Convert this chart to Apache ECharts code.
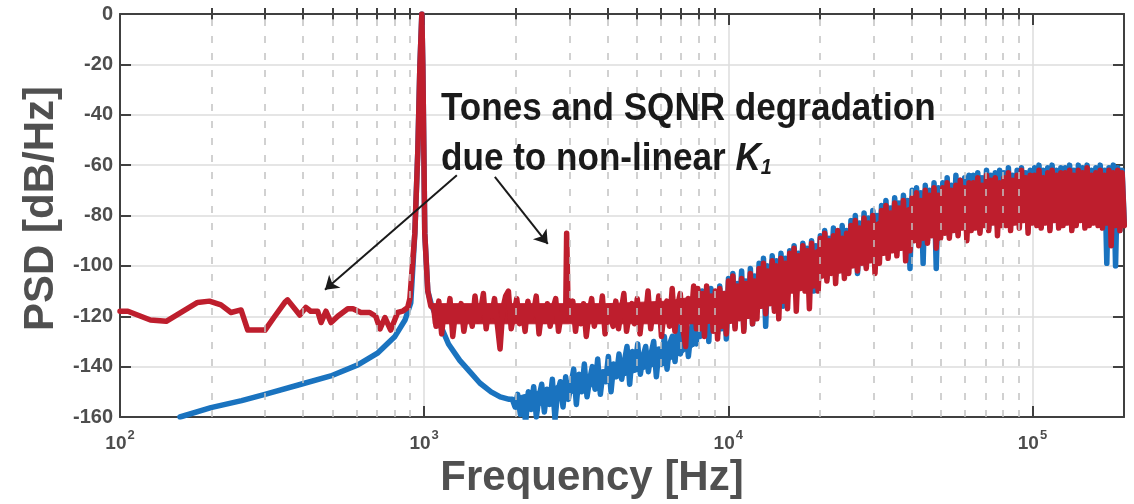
<!DOCTYPE html>
<html>
<head>
<meta charset="utf-8">
<title>PSD</title>
<script src="https://cdn.jsdelivr.net/npm/echarts@6/dist/echarts.min.js"></script>
<style>
  html, body { margin: 0; padding: 0; background: #fff; }
  #chart { width: 1134px; height: 504px; }
</style>
</head>
<body>
<div id="chart"></div>
<script>
// points are [log10(f), PSD dB/Hz]
const redLow = [
  [2.000,-118],[2.026,-118],[2.100,-121.5],[2.152,-122],[2.255,-114.5],[2.294,-114],
  [2.332,-115.5],[2.365,-118.5],[2.398,-117.5],[2.420,-125.5],[2.477,-125.5],[2.509,-120],
  [2.542,-114.5],[2.551,-113.5],[2.591,-119.5],[2.611,-116.5],[2.627,-118],[2.650,-118],
  [2.661,-122.5],[2.677,-118],[2.694,-122.5],[2.716,-120],[2.749,-117],[2.766,-117],
  [2.792,-118.5],[2.821,-118.5],[2.841,-120],[2.855,-125],[2.871,-120.5],[2.890,-125.5],
  [2.913,-118.5],[2.929,-118],[2.946,-116.5]
];
const redPeak = [
  [2.953,-113],[2.9694,-87],[2.9793,-54],[2.9859,-21],[2.9924,0],[2.9957,-21],
  [2.999,-54],[3.002,-87],[3.012,-110],[3.022,-116]
];
const redTone = [[3.4655,-118],[3.4685,-87],[3.4705,-87],[3.4735,-118]];

// noisy stretches: values read left to right, samples evenly spaced in log f
const redNoiseARange = [3.03, 3.46];
const redNoiseA = [
  -116,-124,-114,-127,-117,-122,-113,-128,-118,-121,
  -115,-126,-119,-117,-124,-112,-122,-118,-111,-125,
  -116,-120,-113,-123,-133,-117,-112,-110,-125,-119,
  -113,-123,-117,-126,-114,-121,-119,-112,-127,-118,
  -122,-115,-124,-117,-113,-126,-119,-121
];
const redNoiseBRange = [3.48, 3.895];
const redNoiseB = [
  -121,-114,-126,-117,-123,-115,-128,-119,-113,-124,
  -118,-122,-112,-127,-116,-120,-124,-114,-125,-118,
  -111,-126,-119,-115,-123,-113,-127,-117,-121,-110,
  -125,-116,-122,-112,-128,-118,-114,-124,-109,-126,
  -116,-111,-125,-132,-113,-122,-108,-125
];
const redHighRange = [3.90, 5.302];
const redHigh = [
  -109,-125,-111,-128,-108,-122,-112,-126,-110,-129,-109,-124,-111,-127,
  -106,-122,-104,-125,-108,-121,-105,-126,-107,-120,-103,-123,-106,-121,
  -101,-116,-99,-119,-102,-115,-98,-118,-100,-121,-97,-114,-99,-117,
  -95,-110,-93,-118,-96,-109,-92,-110,-94,-117,-91,-108,-95,-110,
  -89,-104,-87,-106,-90,-103,-88,-107,-86,-102,-89,-105,-87,-103,
  -84,-100,-82,-102,-85,-99,-81,-101,-83,-98,-80,-103,-84,-99,
  -78,-95,-76,-97,-79,-94,-75,-96,-77,-93,-74,-98,-78,-94,
  -73,-90,-71,-92,-74,-89,-70,-91,-72,-88,-69,-93,-72,-89,
  -69,-87,-67,-89,-70,-86,-68,-88,-66,-85,-69,-90,-67,-86,
  -67,-85,-65,-87,-68,-84,-64,-86,-66,-83,-65,-88,-67,-84,
  -65,-84,-63,-86,-66,-83,-64,-85,-62,-82,-65,-87,-64,-83,
  -64,-84,-62,-85,-65,-83,-63,-86,-62,-82,-64,-85,-63,-84,
  -63,-83,-62,-86,-64,-84,-62,-82,-63,-85,-61,-84,-64,-83,
  -63,-84,-62,-85,-64,-83,-62,-92,-63,-84,-62,-86,-63,-84
];
// solid core of the red noise band: log10(f), upper and lower edge
const redCoreExp = [3.03, 3.2, 3.4, 3.6, 3.8, 3.90, 3.95, 4.05, 4.15, 4.25, 4.35, 4.45, 4.55, 4.65, 4.75, 4.85, 4.95, 5.05, 5.15, 5.25, 5.302];
const redCoreTop = [-115, -115, -115, -115, -114, -112, -112, -108, -102, -96, -90, -85, -79, -74, -70, -68, -66, -65, -64, -64, -64];
const redCoreBottom = [-123, -123, -123, -123, -123, -123, -122, -120, -114, -108, -102, -98, -93, -88, -85, -83, -82, -82, -82, -83, -83];

const blueCurve = [
  [2.197,-160],[2.299,-156.3],[2.400,-153.5],[2.4765,-151],[2.595,-147],[2.693,-143.7],
  [2.782,-139.3],[2.848,-134.5],[2.904,-128],[2.937,-121.5],[2.956,-114.7],[2.9694,-87],
  [2.9793,-54],[2.9859,-21],[2.9924,0],[2.9957,-21],[2.999,-54],[3.002,-87],[3.012,-110],
  [3.025,-116],[3.050,-122.5],[3.080,-131],[3.117,-137.5],[3.150,-142],[3.183,-146.5],
  [3.220,-150],[3.250,-152],[3.280,-153]
];
const blueNoiseARange = [3.29, 3.895];
const blueNoiseA = [
  -153,-156,-151,-159,-154,-162,-150,-157,-148,-160,
  -152,-147,-158,-149,-155,-145,-161,-150,-146,-156,
  -144,-153,-147,-141,-155,-143,-150,-139,-152,-145,
  -140,-149,-137,-151,-142,-146,-136,-150,-139,-144,
  -135,-145,-138,-132,-147,-134,-141,-131,-143,-136,
  -132,-142,-135,-130,-144,-133,-139,-128,-141,-131,
  -128,-138,-124,-135,-130,-122,-136,-126,-120,-131
];
const blueHighRange = [3.90, 5.302];
const blueHigh = [
  -112,-128,-110,-126,-115,-130,-109,-124,-113,-127,-108,-125,-111,-129,
  -105,-121,-103,-124,-107,-119,-102,-125,-106,-120,-101,-123,-104,-118,
  -99,-115,-97,-124,-100,-113,-96,-117,-98,-114,-95,-116,-97,-112,
  -94,-108,-92,-111,-95,-106,-91,-109,-93,-107,-90,-110,-92,-106,
  -88,-102,-86,-105,-89,-101,-85,-104,-87,-100,-84,-103,-86,-101,
  -82,-97,-80,-103,-83,-96,-79,-100,-81,-95,-78,-99,-80,-96,
  -76,-92,-74,-95,-77,-91,-73,-94,-75,-90,-72,-94,-74,-101,
  -70,-88,-69,-90,-71,-99,-68,-90,-70,-87,-67,-101,-69,-86,
  -67,-85,-65,-88,-68,-84,-64,-87,-66,-83,-65,-86,-64,-84,
  -64,-83,-63,-86,-65,-82,-62,-85,-64,-81,-63,-84,-62,-82,
  -63,-82,-61,-84,-64,-81,-62,-83,-61,-80,-63,-85,-62,-81,
  -61,-83,-60,-84,-62,-82,-61,-85,-60,-81,-62,-84,-61,-83,
  -61,-82,-60,-85,-62,-83,-60,-81,-61,-84,-60,-83,-62,-82,
  -61,-83,-60,-84,-62,-99,-61,-87,-60,-100,-61,-86,-62,-83
];
// solid core of the blue noise band where it shows below the red one
const blueCoreExp = [3.30, 3.4, 3.5, 3.6, 3.7, 3.8, 3.9];
const blueCoreTop = [-152, -149, -145, -141, -137, -133, -126];
const blueCoreBottom = [-157, -155, -150, -146, -142, -138, -131];

const yTicks = [-160, -140, -120, -100, -80, -60, -40, -20, 0];
const minorFreqs = [200,300,400,500,600,700,800,900,2000,3000,4000,5000,6000,7000,8000,9000,
  20000,30000,40000,50000,60000,70000,80000,90000];
// annotation arrows, [Hz, dB] start -> end
const arrows = [
  [[1281, -64], [472, -109.5]],
  [[1708, -64.7], [2550, -91.3]]
];

const FONT = '"Liberation Sans", Arial, Helvetica, sans-serif';
const AXIS = '#404040';
const RED = '#be1e2d';
const BLUE = '#1a73bf';

function toHz(pts) {
  return pts.map(p => [Math.pow(10, p[0]), p[1]]);
}
function spread(range, vals) {
  const n = vals.length;
  return vals.map((v, i) => [Math.pow(10, range[0] + (range[1] - range[0]) * i / (n - 1)), v]);
}

const redData = [].concat(
  toHz(redLow), toHz(redPeak), spread(redNoiseARange, redNoiseA),
  toHz(redTone), spread(redNoiseBRange, redNoiseB), spread(redHighRange, redHigh)
);
const blueData = [].concat(
  toHz(blueCurve), spread(blueNoiseARange, blueNoiseA), spread(blueHighRange, blueHigh)
);

// filled band between two edges, drawn piece by piece from the axis scales
function bandSeries(exps, top, bottom, color, z) {
  return {
    type: 'custom', z: z, silent: true, clip: true,
    encode: { x: 0, y: [1, 2] },
    data: exps.map((e, i) => [Math.pow(10, e), top[i], bottom[i]]),
    renderItem: function (params, api) {
      const i = params.dataIndexInside;
      if (i === 0) return null;
      const a = api.coord([api.value(0, i - 1), api.value(1, i - 1)]);
      const b = api.coord([api.value(0, i), api.value(1, i)]);
      const c = api.coord([api.value(0, i), api.value(2, i)]);
      const d = api.coord([api.value(0, i - 1), api.value(2, i - 1)]);
      return {
        type: 'polygon', silent: true,
        shape: { points: [a, b, c, d] },
        style: { fill: color, stroke: color, lineWidth: 1 }
      };
    }
  };
}

function powLabel(v) {
  const e = Math.round(Math.log10(v));
  if (Math.abs(v - Math.pow(10, e)) > 1e-6 * v) return '';
  return '{a|10}{b|' + e + '}';
}

const chart = echarts.init(document.getElementById('chart'));

const logAxis = {
  type: 'log', logBase: 10, min: 100, max: 200000, gridIndex: 0
};

const option = {
  animation: false,
  backgroundColor: '#fff',
  grid: { left: 120, right: 10, top: 14, bottom: 87, containLabel: false, outerBoundsMode: 'none' },
  xAxis: [
    Object.assign({}, logAxis, {
      position: 'bottom',
      axisLine: { show: true, onZero: false, lineStyle: { color: AXIS, width: 2 } },
      axisTick: { show: true, inside: true, length: 11, lineStyle: { color: AXIS, width: 2 } },
      axisLabel: {
        margin: 12, formatter: powLabel, showMaxLabel: false,
        rich: {
          a: { fontSize: 19, fontWeight: 'bold', fontFamily: FONT, color: '#4d4d4d', verticalAlign: 'bottom' },
          b: { fontSize: 13, fontWeight: 'bold', fontFamily: FONT, color: '#4d4d4d', verticalAlign: 'top', padding: [0, 0, 11, 1] }
        }
      },
      splitLine: { show: true, lineStyle: { color: '#dcdcdc', width: 1.5 } },
      name: 'Frequency [Hz]', nameLocation: 'middle', nameGap: 40,
      nameTextStyle: { fontSize: 42, fontWeight: 'bold', fontFamily: FONT, color: '#505050', padding: [0, 60, 0, 0] }
    }),
    Object.assign({}, logAxis, {
      position: 'bottom',
      axisLine: { show: false },
      axisTick: { show: true, inside: true, length: 6, customValues: minorFreqs, lineStyle: { color: AXIS, width: 2 } },
      axisLabel: { show: false },
      splitLine: { show: false }
    }),
    Object.assign({}, logAxis, {
      position: 'top',
      axisLine: { show: true, onZero: false, lineStyle: { color: AXIS, width: 2 } },
      axisTick: { show: true, inside: true, length: 11, lineStyle: { color: AXIS, width: 2 } },
      axisLabel: { show: false },
      splitLine: { show: false }
    }),
    Object.assign({}, logAxis, {
      position: 'top',
      axisLine: { show: false },
      axisTick: { show: true, inside: true, length: 6, customValues: minorFreqs, lineStyle: { color: AXIS, width: 2 } },
      axisLabel: { show: false },
      splitLine: { show: false }
    })
  ],
  yAxis: [
    {
      type: 'value', min: yTicks[0], max: yTicks[yTicks.length - 1], interval: 20, position: 'left',
      axisLine: { show: true, onZero: false, lineStyle: { color: AXIS, width: 2 } },
      axisTick: { show: true, inside: true, length: 11, lineStyle: { color: AXIS, width: 2 } },
      axisLabel: { margin: 7, fontSize: 20, fontWeight: 'bold', fontFamily: FONT, color: '#4d4d4d' },
      splitLine: { show: true, lineStyle: { color: '#dcdcdc', width: 1.5 } },
      name: 'PSD [dB/Hz]', nameLocation: 'middle', nameGap: 42, nameRotate: 90,
      nameTextStyle: { fontSize: 42, fontWeight: 'bold', fontFamily: FONT, color: '#505050', padding: [0, 0, 0, 14] }
    },
    {
      type: 'value', min: yTicks[0], max: yTicks[yTicks.length - 1], interval: 20, position: 'right',
      axisLine: { show: true, onZero: false, lineStyle: { color: AXIS, width: 2 } },
      axisTick: { show: true, inside: true, length: 11, lineStyle: { color: AXIS, width: 2 } },
      axisLabel: { show: false },
      splitLine: { show: false }
    }
  ],
  series: [
    {
      // minor (dashed) frequency grid
      type: 'line', data: [], z: 1, silent: true,
      markLine: {
        silent: true, symbol: ['none', 'none'], label: { show: false }, animation: false,
        lineStyle: { type: [7, 10], color: '#c2c2c2', width: 1.5 },
        data: minorFreqs.map(f => ({ xAxis: f }))
      }
    },
    bandSeries(blueCoreExp, blueCoreTop, blueCoreBottom, BLUE, 3),
    {
      name: 'linear', type: 'line', data: blueData, z: 3,
      showSymbol: false, symbol: 'none', clip: true,
      lineStyle: { color: BLUE, width: 5.5, join: 'round', cap: 'round' }
    },
    bandSeries(redCoreExp, redCoreTop, redCoreBottom, RED, 4),
    {
      name: 'non-linear K1', type: 'line', data: redData, z: 4,
      showSymbol: false, symbol: 'none', clip: true,
      lineStyle: { color: RED, width: 5.5, join: 'round', cap: 'round' }
    },
    {
      type: 'line', data: [], z: 6, silent: true,
      markLine: {
        silent: true, symbol: ['none', 'arrow'], symbolSize: 13, label: { show: false }, animation: false,
        lineStyle: { type: 'solid', color: '#1a1a1a', width: 2 },
        data: arrows.map(a => [{ coord: a[0] }, { coord: a[1] }])
      }
    }
  ],
  graphic: [
    {
      type: 'text', x: 441, y: 78.5, scaleX: 0.9, z: 10, silent: true,
      style: {
        text: '{n|Tones and SQNR degradation}\n{n|due to non-linear }{k|K}{s|1}',
        verticalAlign: 'top', align: 'left',
        rich: {
          n: { fontSize: 39, fontWeight: 'bold', fontFamily: FONT, fill: '#1a1a1a', lineHeight: 50, verticalAlign: 'bottom' },
          k: { fontSize: 39, fontWeight: 'bold', fontStyle: 'italic', fontFamily: FONT, fill: '#1a1a1a', lineHeight: 50, verticalAlign: 'bottom' },
          s: { fontSize: 22, fontWeight: 'bold', fontStyle: 'italic', fontFamily: FONT, fill: '#1a1a1a', lineHeight: 6, verticalAlign: 'bottom' }
        }
      }
    }
  ]
};

chart.setOption(option);
window.addEventListener('resize', function () {
  chart.resize();
});
</script>
</body>
</html>
